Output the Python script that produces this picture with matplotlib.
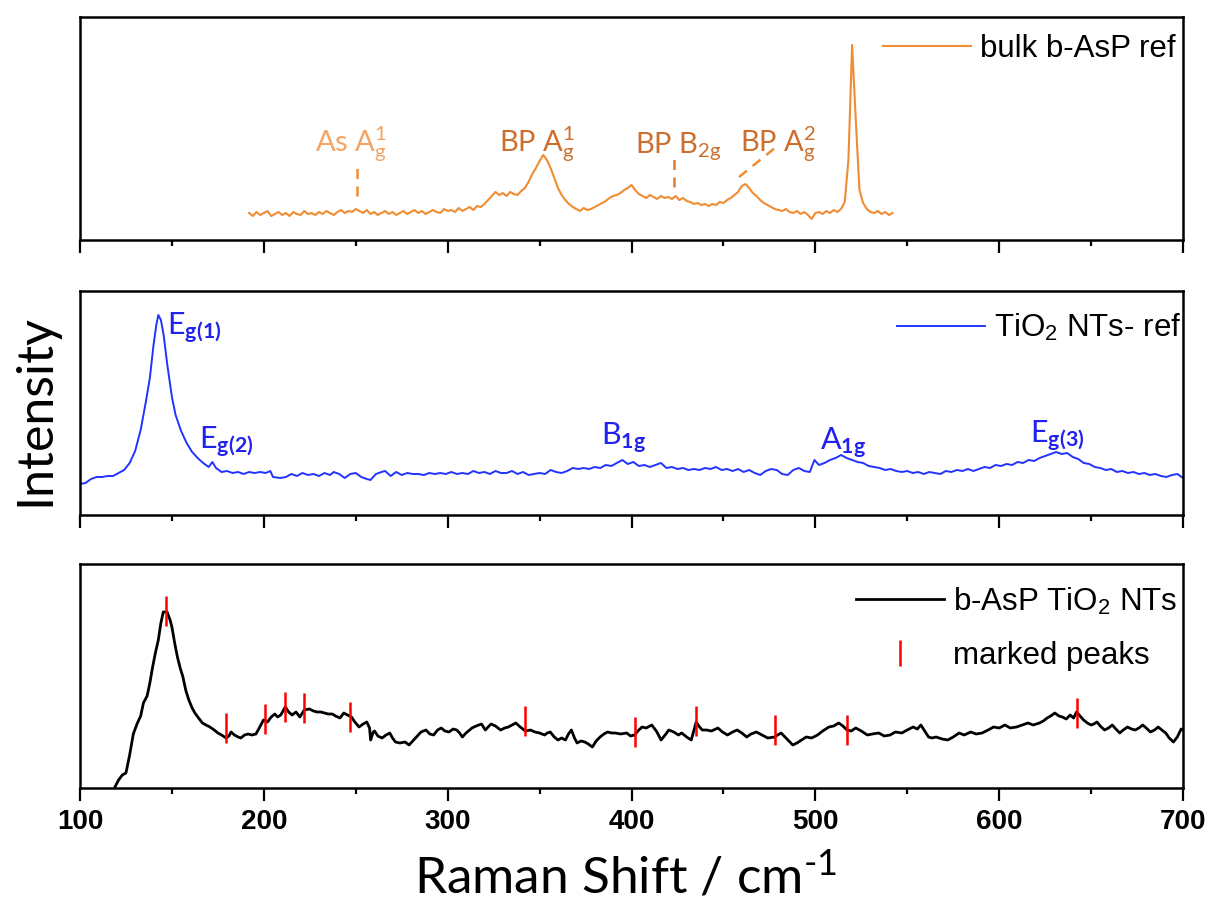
import numpy as np
import matplotlib
matplotlib.use('Agg')
import matplotlib.pyplot as plt

# ---------------- data (intensity in arbitrary units) ----------------
bulk_x = np.arange(192, 544, 2)
bulk_y = [27, 24, 28, 25, 27, 29, 24, 26, 28, 25, 27, 24, 28, 26, 25, 29, 26, 27, 25, 28,
          26, 29, 27, 25, 28, 30, 27, 29, 28, 31,
          29, 27, 30, 26, 28, 25, 27, 29, 26, 28, 25, 27, 29, 26, 28, 30, 27, 29, 26, 28, 30, 28, 27, 31, 29,
          30, 28, 32, 29, 31, 33, 30, 34, 33, 36,
          40, 44, 48, 45, 47, 44, 48, 46, 45, 49,
          52, 58, 66, 72, 79, 85, 80, 72, 62, 52,
          45, 40, 36, 33, 31, 29, 32, 30, 31, 33,
          35, 37, 39, 42, 44, 45, 47, 50, 52, 55,
          50, 46, 44, 42, 45, 43, 41, 44, 42, 43,
          41, 44, 40, 42, 39, 38, 36, 37, 35, 36,
          34, 36, 35, 38, 37, 40, 42, 45, 48, 54,
          56, 52, 47, 44, 40, 37, 35, 33, 31, 30,
          29, 31, 28, 27, 29, 26, 28, 25, 21, 27,
          28, 26, 29, 27, 30, 28, 31, 38,
          80, 195, 120, 50, 37, 31, 28,
          27, 29, 26, 28, 25, 27]

tio2_x = [100, 103, 106, 109, 112, 115, 118, 121, 124, 127,
          130, 133, 136, 138, 140, 141.5, 142.6, 144, 145.5, 147.5,
          150, 152, 155, 158, 161, 164, 167, 170, 172, 174,
          177, 180, 183, 186, 189, 192, 195, 198, 201, 203.5,
          205, 209, 212, 215, 218, 221, 224, 227, 230, 233,
          236, 238, 241, 244, 247, 250, 253, 256, 258, 261,
          264, 266, 269, 272, 275, 278, 281, 284, 287, 290,
          293, 296, 299, 302, 305, 308, 311, 314, 317, 320,
          323, 326, 329, 332, 335, 338, 341, 344, 347, 350,
          353, 356, 359, 362, 365, 368, 371, 374, 377, 380,
          383, 386, 389, 392, 395, 398, 401, 404, 407, 410,
          413, 416, 419, 422, 425, 428, 431, 434, 437, 440,
          443, 446, 449, 452, 455, 458, 461, 464, 467, 470,
          473, 476, 479, 482, 485, 488, 491, 494, 497, 499.5,
          502, 505, 508, 511, 514, 517, 520, 523, 526, 529,
          532, 535, 538, 541, 544, 547, 550, 553, 556, 559,
          562, 565, 568, 571, 574, 577, 580, 583, 586, 589,
          592, 595, 598, 601, 604, 607, 610, 613, 616, 619,
          622, 625, 628, 631, 634, 637, 640, 643, 646, 649,
          652, 655, 658, 661, 664, 667, 670, 673, 676, 679,
          682, 685, 688, 691, 694, 697, 700]
tio2_y = [31, 32, 36, 38, 38, 39, 39, 42, 45, 52,
          64, 85, 115, 137, 170, 190, 200, 195, 180, 150,
          118, 100, 84, 72, 63, 57, 52, 48, 53, 47,
          43, 44, 42, 43, 41, 43, 42, 43, 42, 44,
          38, 37, 38, 41, 39, 42, 40, 41, 39, 42,
          40, 43, 41, 37, 41, 42, 38, 36, 35, 41,
          43, 44, 39, 43, 40, 42, 41, 41, 40, 42,
          41, 42, 41, 43, 41, 42, 41, 44, 42, 43,
          41, 44, 42, 42, 44, 41, 43, 40, 41, 42,
          41, 45, 43, 42, 44, 47, 46, 47, 46, 48,
          47, 50, 49, 52, 55, 51, 53, 49, 50, 48,
          50, 52, 47, 48, 46, 47, 45, 46, 45, 47,
          46, 48, 45, 46, 44, 46, 43, 45, 42, 40,
          44, 46, 45, 41, 40, 45, 47, 44, 43, 55,
          50, 52, 55, 57, 60, 57, 55, 53, 52, 49,
          48, 47, 45, 46, 44, 43, 44, 42, 43, 41,
          43, 42, 41, 44, 43, 45, 44, 46, 44, 46,
          48, 47, 50, 49, 51, 50, 53, 52, 55, 54,
          57, 59, 61, 63, 61, 62, 58, 56, 52, 51,
          48, 47, 45, 46, 43, 44, 42, 43, 41, 42,
          40, 41, 39, 38, 40, 41, 37]

asp_x = [119, 121, 123, 125, 127, 129, 131, 133, 134.5, 136.5,
         138, 139.5, 141, 142.6, 144, 145.3, 147.4, 149, 150, 151.5,
         153, 154.5, 156, 157.5, 159.2, 161, 162.5, 164.5, 166.6, 168.5,
         170.7, 173, 175, 177, 179.5, 181, 182.2, 184, 186, 187.5,
         189.5, 191.5, 193.5, 195.7, 197.5, 199.8, 202, 204, 206, 207.5,
         209.2, 211.7, 213.5, 215.4, 217.5, 219.6, 222, 224.8, 227, 229,
         231, 233, 235, 237.3, 239, 241.4, 243.5, 245.5, 247.7, 249.5,
         251.8, 254, 256, 257.5, 258.1, 259.5, 260.2, 262, 264.3, 266.5,
         268.5, 270, 271.6, 274, 276.8, 279, 281, 283, 285.5, 288.2,
         290.3, 292.4, 294.5, 296.5, 298.5, 300.7, 303, 304.9, 306.5, 308,
         310, 313.2, 315.5, 318.4, 320.5, 322, 323.6, 326, 328.8, 331,
         333, 335, 337.1, 339.5, 342.3, 345, 347.5, 350, 352.7, 354.2,
         355.8, 358, 360, 362, 364.1, 365.7, 367.3, 369, 370.4, 372.5,
         374.6, 376.5, 378.7, 380.8, 382.9, 385, 387, 389, 391.2, 394,
         397.4, 399.5, 401.6, 404, 405.8, 408, 411, 413.5, 416.1, 418.3,
         420.3, 423, 425.5, 427.3, 430, 432.5, 435.2, 437, 438.5, 440.8,
         443.5, 447, 449.5, 452.2, 455, 457.5, 460, 462.7, 465, 467.9,
         471, 474.1, 477.9, 479.5, 481.4, 484, 487.7, 490, 492.5, 495,
         498, 501.2, 504, 507.4, 510, 512.7, 515, 517.2, 519.5, 522,
         525, 528.3, 531, 534.5, 537.5, 540.7, 543.5, 547, 550, 553.2,
         555.5, 557.4, 559.5, 561.6, 563.5, 565.7, 569, 572, 575, 578.2,
         581, 584.5, 587.5, 590.7, 594, 597, 600, 603.2, 606, 609.4,
         612.5, 615.7, 618.5, 621.9, 624, 626.1, 628, 630.3, 632.5, 634.4,
         636.5, 638.6, 640.5, 642.1, 644, 645.9, 648, 650, 651.5, 653.2,
         655, 657.3, 659.5, 661.5, 663.5, 665.6, 667.5, 669.8, 672, 674,
         676, 678.1, 680, 682.3, 684.5, 686.5, 688.5, 690.6, 692.5, 694.8,
         696.9, 699, 700]
asp_y = [1, 8, 13, 15, 33, 54, 64, 72, 85, 92,
         105, 121, 135, 148, 165, 176, 176, 168, 161, 145,
         131, 120, 111, 98, 88, 80, 75, 70, 65, 63,
         61, 58, 55, 53, 50, 52, 56, 53, 51, 50,
         53, 54, 53, 54, 60, 68, 66, 71, 74, 71,
         73, 81, 76, 73, 76, 71, 78, 79, 77, 76,
         76, 75, 74, 74, 72, 70, 75, 73, 71, 66,
         61, 64, 66, 60, 48, 56, 57, 52, 50, 53,
         55, 50, 46, 45, 46, 43, 47, 51, 56, 58,
         54, 53, 58, 60, 57, 56, 59, 58, 55, 51,
         55, 60, 62, 64, 58, 61, 64, 62, 58, 60,
         61, 63, 65, 61, 57, 58, 56, 55, 53, 55,
         56, 51, 48, 50, 48, 54, 58, 50, 45, 47,
         46, 44, 41, 47, 51, 54, 56, 55, 55, 54,
         55, 52, 53, 58, 61, 60, 63, 57, 48, 53,
         58, 56, 53, 55, 51, 48, 66, 61, 58, 58,
         57, 60, 56, 53, 56, 58, 55, 51, 54, 56,
         53, 50, 51, 53, 55, 50, 43, 45, 48, 51,
         50, 53, 57, 61, 62, 65, 62, 58, 57, 60,
         57, 53, 54, 55, 52, 53, 56, 55, 58, 61,
         59, 63, 57, 51, 50, 51, 49, 48, 51, 55,
         53, 56, 54, 55, 58, 61, 60, 63, 60, 61,
         63, 65, 63, 65, 67, 70, 72, 75, 72, 71,
         69, 73, 70, 76, 72, 68, 65, 63, 64, 66,
         62, 58, 60, 63, 59, 55, 58, 61, 59, 58,
         60, 63, 60, 56, 58, 61, 58, 55, 50, 46,
         51, 59, 58]

peak_x = [147, 179.5, 200.5, 211.7, 221.9, 246.8, 342.3, 401.8, 435.2, 477.9, 517.2, 642.1]
peak_y = [177, 60, 69, 81, 80, 71.5, 67, 56.5, 67.5, 58, 58, 74.7]

xticks = [100, 200, 300, 400, 500, 600, 700]
xtick_labels = ['100', '200', '300', '400', '500', '600', '700']

# ---------------- style ----------------
plt.rcParams.update({
    'mathtext.fontset': 'custom',
    'mathtext.rm': 'Lato',
    'mathtext.it': 'Lato:italic',
    'mathtext.bf': 'Lato:bold',
    'mathtext.sf': 'Liberation Sans',
    'axes.linewidth': 1.8,
})

ORANGE = '#F08C32'
AS_LBL = '#F4A464'
BP_LBL = '#CC6E2C'
BLUE = '#2233FF'
BLUE_LBL = '#2222EE'

W, H = 1211, 910
AXW = 1183 - 80
def rect(l, t, r, b):
    return [l / W, 1 - b / H, (r - l) / W, (b - t) / H]

fig = plt.figure(figsize=(W / 100, H / 100), dpi=100)
ax1 = fig.add_axes(rect(80, 17, 1183, 240))
ax2 = fig.add_axes(rect(80, 291, 1183, 515))
ax3 = fig.add_axes(rect(80, 564, 1183, 788))

leg_font = {'family': 'Liberation Sans', 'size': 22.5}

for ax in (ax1, ax2, ax3):
    ax.set_xlim(100, 700)
    ax.set_yticks([])
    ax.set_xticks(xticks)
    ax.set_xticks(np.arange(150, 700, 100), minor=True)
    ax.tick_params(axis='x', which='major', direction='out', length=9, width=1.6)
    ax.tick_params(axis='x', which='minor', direction='out', length=4.5, width=1.6)
    if ax is not ax3:
        ax.tick_params(axis='x', labelbottom=False)

# top panel
ax1.plot(bulk_x, bulk_y, color=ORANGE, lw=1.5, label='bulk b-AsP ref')
ax1.set_ylim(0, 223)
tfont = dict(family='Lato', size=21)
ax1.text(228, 88, r'As $\mathrm{A}^{1}_{\mathrm{g}}$', color=AS_LBL, ha='left', va='baseline', **tfont)
ax1.text(328, 88, r'BP $\mathrm{A}^{1}_{\mathrm{g}}$', color=BP_LBL, ha='left', va='baseline', **tfont)
ax1.text(402, 88, r'BP $\mathrm{B}_{\mathrm{2g}}$', color=BP_LBL, ha='left', va='baseline', **tfont)
ax1.text(459, 88, r'BP $\mathrm{A}^{2}_{\mathrm{g}}$', color=BP_LBL, ha='left', va='baseline', **tfont)
ax1.plot([250.5, 250.5], [44, 75], color=ORANGE, lw=1.8, ls=(0, (4, 3)))
ax1.plot([423, 423], [53, 84], color='#E07A30', lw=1.8, ls=(0, (4, 3)))
ax1.plot([458.5, 480], [63, 95], color=ORANGE, lw=1.8, ls=(0, (4, 3)))
ax1.legend(loc='upper right', bbox_to_anchor=(1 + 10 / AXW, 1), frameon=False, prop=leg_font,
           handlelength=2.8, handletextpad=0.3, borderaxespad=0.0, borderpad=0.55)

# middle panel
ax2.plot(tio2_x, tio2_y, color=BLUE, lw=1.4, label=r'TiO$_\mathsf{2}$ NTs- ref')
ax2.set_ylim(0, 224)
bfont = dict(family='Lato', size=22, color=BLUE_LBL, ha='left', va='baseline')
ax2.text(147.5, 180, r'E$_{\mathbf{g(1)}}$', **bfont)
ax2.text(164.5, 66, r'E$_{\mathbf{g(2)}}$', **bfont)
ax2.text(383.5, 70, r'B$_{\mathbf{1g}}$', **bfont)
ax2.text(502.5, 65, r'A$_{\mathbf{1g}}$', **bfont)
ax2.text(617, 72, r'E$_{\mathbf{g(3)}}$', **bfont)
ax2.legend(loc='upper right', bbox_to_anchor=(1 + 17 / AXW, 1 - 2 / 224), frameon=False, prop=leg_font,
           handlelength=2.8, handletextpad=0.3, borderaxespad=0.0, borderpad=0.6)

# bottom panel
ax3.plot(asp_x, asp_y, color='black', lw=2.0, label=r'b-AsP TiO$_\mathsf{2}$ NTs')
ax3.plot(peak_x, peak_y, ls='none', marker='|', ms=21, mew=1.8, color='red', label='marked peaks')
ax3.set_ylim(0, 224)
ax3.set_xticklabels(xtick_labels, fontfamily='Liberation Sans', fontweight='bold', fontsize=20)
ax3.tick_params(axis='x', which='major', pad=6)
ax3.legend(loc='upper right', bbox_to_anchor=(1 + 18 / AXW, 1 + 2 / 224), frameon=False, prop=leg_font,
           handlelength=2.8, handletextpad=0.3, borderaxespad=0.0, borderpad=0.75, labelspacing=0.75,
           markerscale=0.9)

fig.text(35 / W, 1 - 410 / H, 'Intensity', rotation=90, ha='center', va='center',
         family='Lato', size=36)
fig.text(626 / W, 1 - 877 / H, r'Raman Shift / cm$^{\text{-1}}$', ha='center', va='center',
         family='Lato', size=37)

fig.savefig('out.png', dpi=100)
